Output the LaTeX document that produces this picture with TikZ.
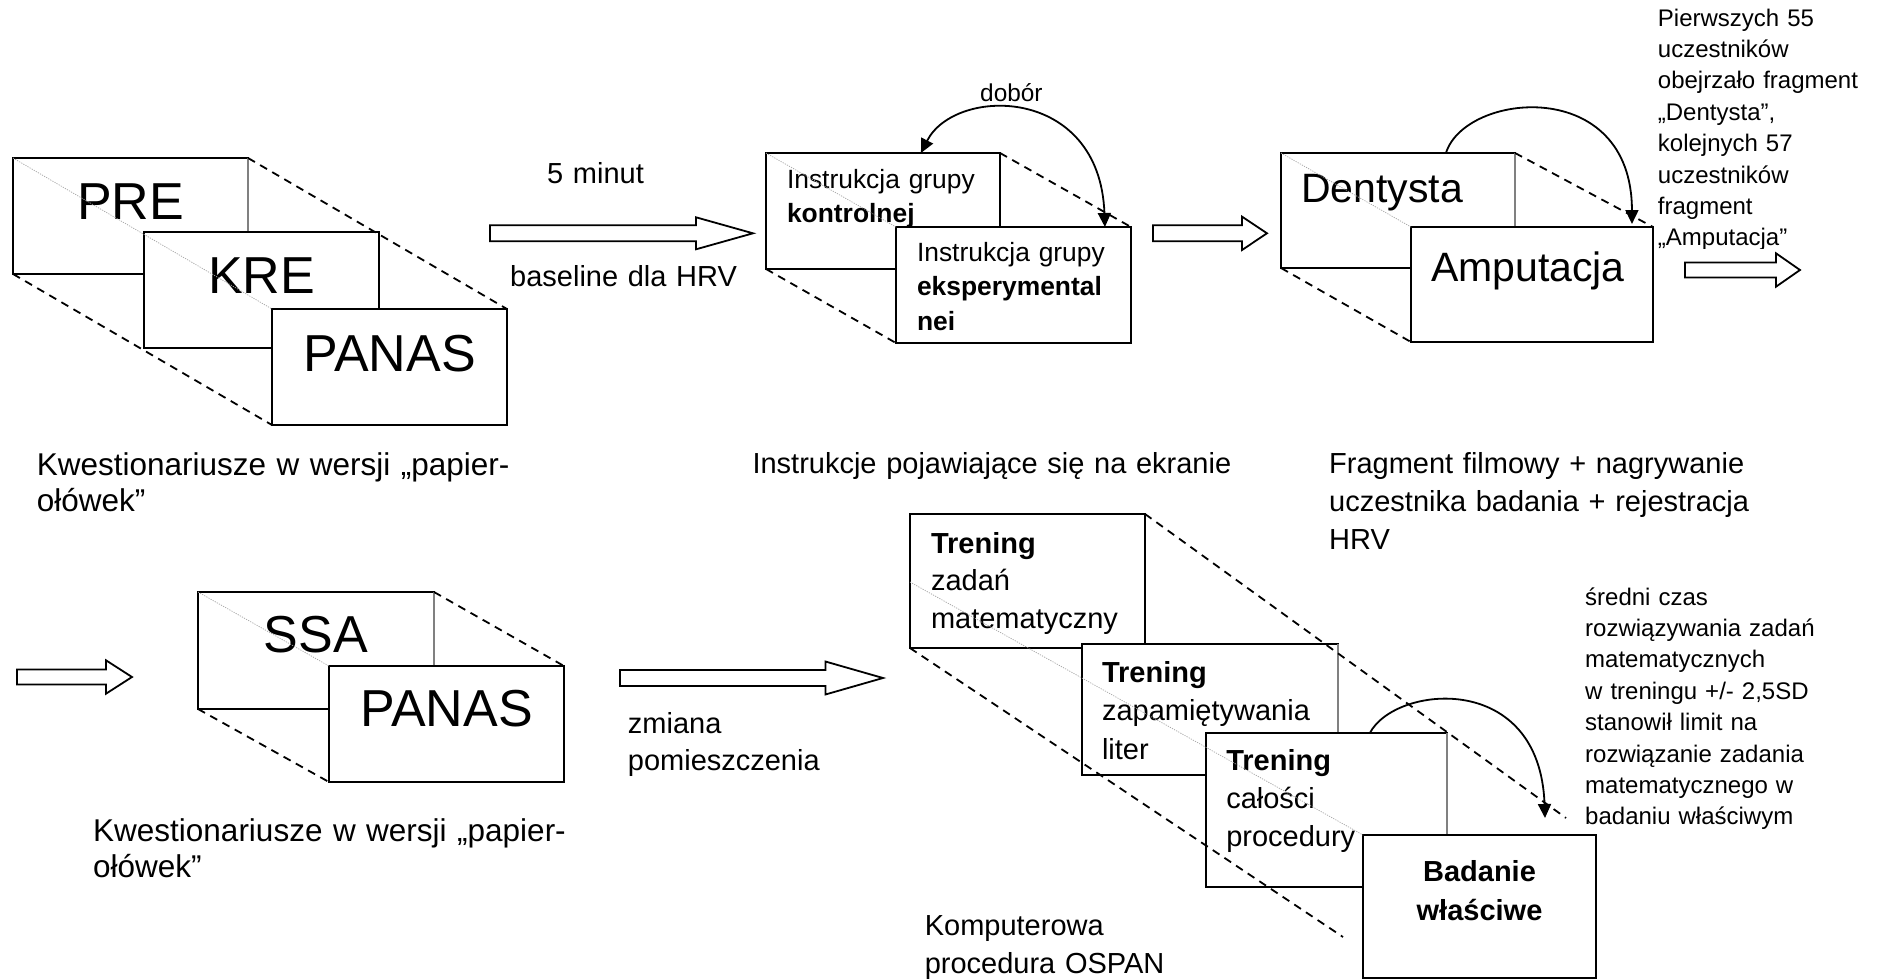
\documentclass[tikz,border=0pt]{standalone}
\usepackage{fontspec}
\setmainfont{Liberation Sans}
\usetikzlibrary{arrows.meta,calc}

% hollow block arrow: x-start, x-tip, centre y, half shaft, half head, head length
\newcommand\blockarrow[6]{%
  \draw[blockarrow] (#1,{#3-#4}) -- ({#2-#6},{#3-#4}) -- ({#2-#6},{#3-#5})
    -- (#2,#3) -- ({#2-#6},{#3+#5}) -- ({#2-#6},{#3+#4}) -- (#1,{#3+#4}) -- cycle;}

\begin{document}
\begin{tikzpicture}[x=1pt,y=-1pt,
  panel/.style={draw, line width=1.8pt, fill=white, inner sep=0pt, outer sep=0pt, anchor=north west},
  big/.style={font=\fontsize{52}{60}\selectfont},
  mid/.style={font=\fontsize{41}{48}\selectfont},
  body/.style={font=\fontsize{29}{38.3}\selectfont},
  txt/.style={inner sep=0pt, anchor=base west, align=left, text width=520pt},
  fold/.style={dash pattern=on 8pt off 6pt, line width=1.8pt},
  faint/.style={draw=black!35, line width=0.7pt, dash pattern=on 1.2pt off 1.2pt},
  backedge/.style={draw=black!50, line width=1.2pt, preaction={draw=white, line width=2.4pt}},
  blockarrow/.style={draw, line width=1.8pt, fill=white, line join=miter},
  arcarrow/.style={line width=1.8pt},
  tip/.tip={Triangle[length=14pt,width=13pt]}
]
\fill[white] (0,0) rectangle (1877,980);
\useasboundingbox (0,0) rectangle (1877,980);

% ---------- questionnaires, first session ----------
\node[panel, big, minimum width=235pt, text height=61pt, text depth=55pt] (pre) at (13,158) {PRE};
\draw[backedge] (pre.north east) -- (pre.south east);
\node[panel, big, minimum width=235pt, text height=61pt, text depth=55pt] (kre) at (144,232) {KRE};
\node[panel, big, minimum width=235pt, text height=62pt, text depth=54pt] (panasA) at (272,309) {PANAS};
\draw[faint] (pre.north west) -- (panasA.north west);
\draw[fold] (pre.north east) -- (panasA.north east);
\draw[fold] (pre.south west) -- (panasA.south west);
\node[txt, font=\fontsize{31.5}{36.7}\selectfont] (capA) at (36.7,475) {Kwestionariusze w wersji „papier-\\ołówek”};

% ---------- baseline ----------
\blockarrow{490}{753}{233.3}{8}{16}{57}
\node[txt, body] (fivemin) at (547,183) {5 minut};
\node[txt, body] (basehrv) at (510,286) {baseline dla HRV};

% ---------- on-screen instructions ----------
\node[panel, text width=192pt, inner xsep=21pt, align=left, text height=35.3pt, text depth=80.7pt,
      font=\fontsize{26.4}{34.5}\selectfont] (ctrl) at (766,153) {Instrukcja grupy\\\textbf{kontrolnej}};
\node[panel, text width=193pt, inner xsep=21pt, align=left, text height=34.7pt, text depth=81.3pt,
      font=\fontsize{26.4}{34.2}\selectfont] (exper) at (896,227) {Instrukcja grupy\\\textbf{eksperymental}\\\textbf{nei}};
\draw[faint] (ctrl.north west) -- (exper.north west);
\draw[fold] (ctrl.north east) -- (exper.north east);
\draw[fold] (ctrl.south west) -- (exper.south west);
\coordinate (dA) at ($(ctrl.north west)!0.662!(ctrl.north east)$);
\coordinate (dB) at ($(exper.north west)!0.889!(exper.north east)$);
\draw[arcarrow, tip-tip] (dA) .. controls ($(dA)+(34,-67)$) and ($(dB)+(-5,-142)$) .. (dB);
\node[txt, font=\fontsize{24.4}{30}\selectfont] (dobor) at (980,101.7) {dobór};
\node[txt, body] (capB) at (752.3,473.3) {Instrukcje pojawiające się na ekranie};

% ---------- film fragment ----------
\blockarrow{1153}{1267}{233.3}{8}{16.7}{25}
\node[panel, mid, text width=194pt, inner xsep=20pt, align=left, text height=49pt, text depth=66pt] (dent) at (1281,153) {Dentysta};
\draw[backedge] (dent.north east) -- (dent.south east);
\node[panel, mid, text width=202pt, inner xsep=20pt, align=left, text height=54.7pt, text depth=60.3pt] (amp) at (1411,227) {Amputacja};
\draw[faint] (dent.north west) -- (amp.north west);
\draw[fold] (dent.north east) -- (amp.north east);
\draw[fold] (dent.south west) -- (amp.south west);
\coordinate (fA) at ($(dent.north west)!0.705!(dent.north east)$);
\coordinate (fB) at ($(amp.north west)!0.913!(amp.north east)+(0,-3)$);
\draw[arcarrow, -tip] (fA) .. controls ($(fA)+(19,-61)$) and ($(fB)+(0,-149)$) .. (fB);
\begin{scope}
  \clip (1640,0) rectangle (1877,248);
  \node[txt, font=\fontsize{24}{31.4}\selectfont] (noteA) at (1657.7,26)
    {Pierwszych 55\\uczestników\\obejrzało fragment\\„Dentysta”,\\kolejnych 57\\uczestników\\fragment\\„Amputacja”};
\end{scope}
\blockarrow{1685}{1800}{270}{7.5}{16.7}{24}
\node[txt, body] (capC) at (1329,473.3) {Fragment filmowy + nagrywanie\\uczestnika badania + rejestracja\\HRV};

% ---------- questionnaires, second session ----------
\blockarrow{17}{132}{677}{7.5}{16.7}{26}
\node[panel, big, minimum width=236pt, text height=60pt, text depth=57pt] (ssa) at (198,592) {SSA};
\draw[backedge] (ssa.north east) -- (ssa.south east);
\node[panel, big, minimum width=235pt, text height=60pt, text depth=56pt] (panasB) at (329,666) {PANAS};
\draw[faint] (ssa.north west) -- (panasB.north west);
\draw[fold] (ssa.north east) -- (panasB.north east);
\draw[fold] (ssa.south west) -- (panasB.south west);
\node[txt, font=\fontsize{31.5}{36.7}\selectfont] (capD) at (93,841) {Kwestionariusze w wersji „papier-\\ołówek”};

% ---------- OSPAN ----------
\blockarrow{620}{883}{678}{8}{16.5}{57.6}
\node[txt, font=\fontsize{29}{36.7}\selectfont] (room) at (627.7,733.3) {zmiana\\pomieszczenia};

\node[panel, body, text width=193pt, inner xsep=21pt, align=left, text height=39pt, text depth=95pt,
      font=\fontsize{29}{37.7}\selectfont] (tA) at (910,514) {\textbf{Trening}\\zadań\\matematyczny};
\node[panel, body, text width=216pt, inner xsep=20pt, align=left, text height=38.7pt, text depth=92.3pt,
      font=\fontsize{29}{38.2}\selectfont] (tB) at (1082,644) {\textbf{Trening}\\zapamiętywania\\liter};
\draw[backedge] (tB.north east) -- (tB.south east);
\node[panel, body, text width=200.4pt, inner xsep=20.3pt, align=left, text height=37pt, text depth=117pt] (tC) at (1206,733) {\textbf{Trening}\\całości\\procedury};
\draw[backedge] (tC.north east) -- (tC.south east);
\node[panel, body, text width=233pt, inner xsep=0pt, align=center, text height=46.7pt, text depth=96.3pt,
      font=\fontsize{29}{38.3}\selectfont\bfseries] (bad) at (1363,835) {Badanie\\właściwe};
\draw[faint] ($(tA.north west)+(0,68)$) -- (bad.north west);
\coordinate (oA) at (1566,818);
\coordinate (oB) at (1343,937);
\draw[fold] (tA.north east) -- (oA);
\draw[fold] (tA.south west) -- (oB);
\coordinate (tcA) at ($(tC.north west)!0.68!(tC.north east)$);
\coordinate (tcB) at ($(bad.north west)+(182,-17)$);
\draw[arcarrow, -tip] (tcA) .. controls ($(tcA)+(25,-48)$) and ($(tcB)+(-5,-148)$) .. (tcB);
\node[txt, font=\fontsize{24}{31.4}\selectfont] (noteB) at (1585,605)
  {średni czas\\rozwiązywania zadań\\matematycznych\\w treningu +/- 2,5SD\\stanowił limit na\\rozwiązanie zadania\\matematycznego w\\badaniu właściwym};
\node[txt, body] (capE) at (924.6,935) {Komputerowa\\procedura OSPAN};
\end{tikzpicture}
\end{document}
